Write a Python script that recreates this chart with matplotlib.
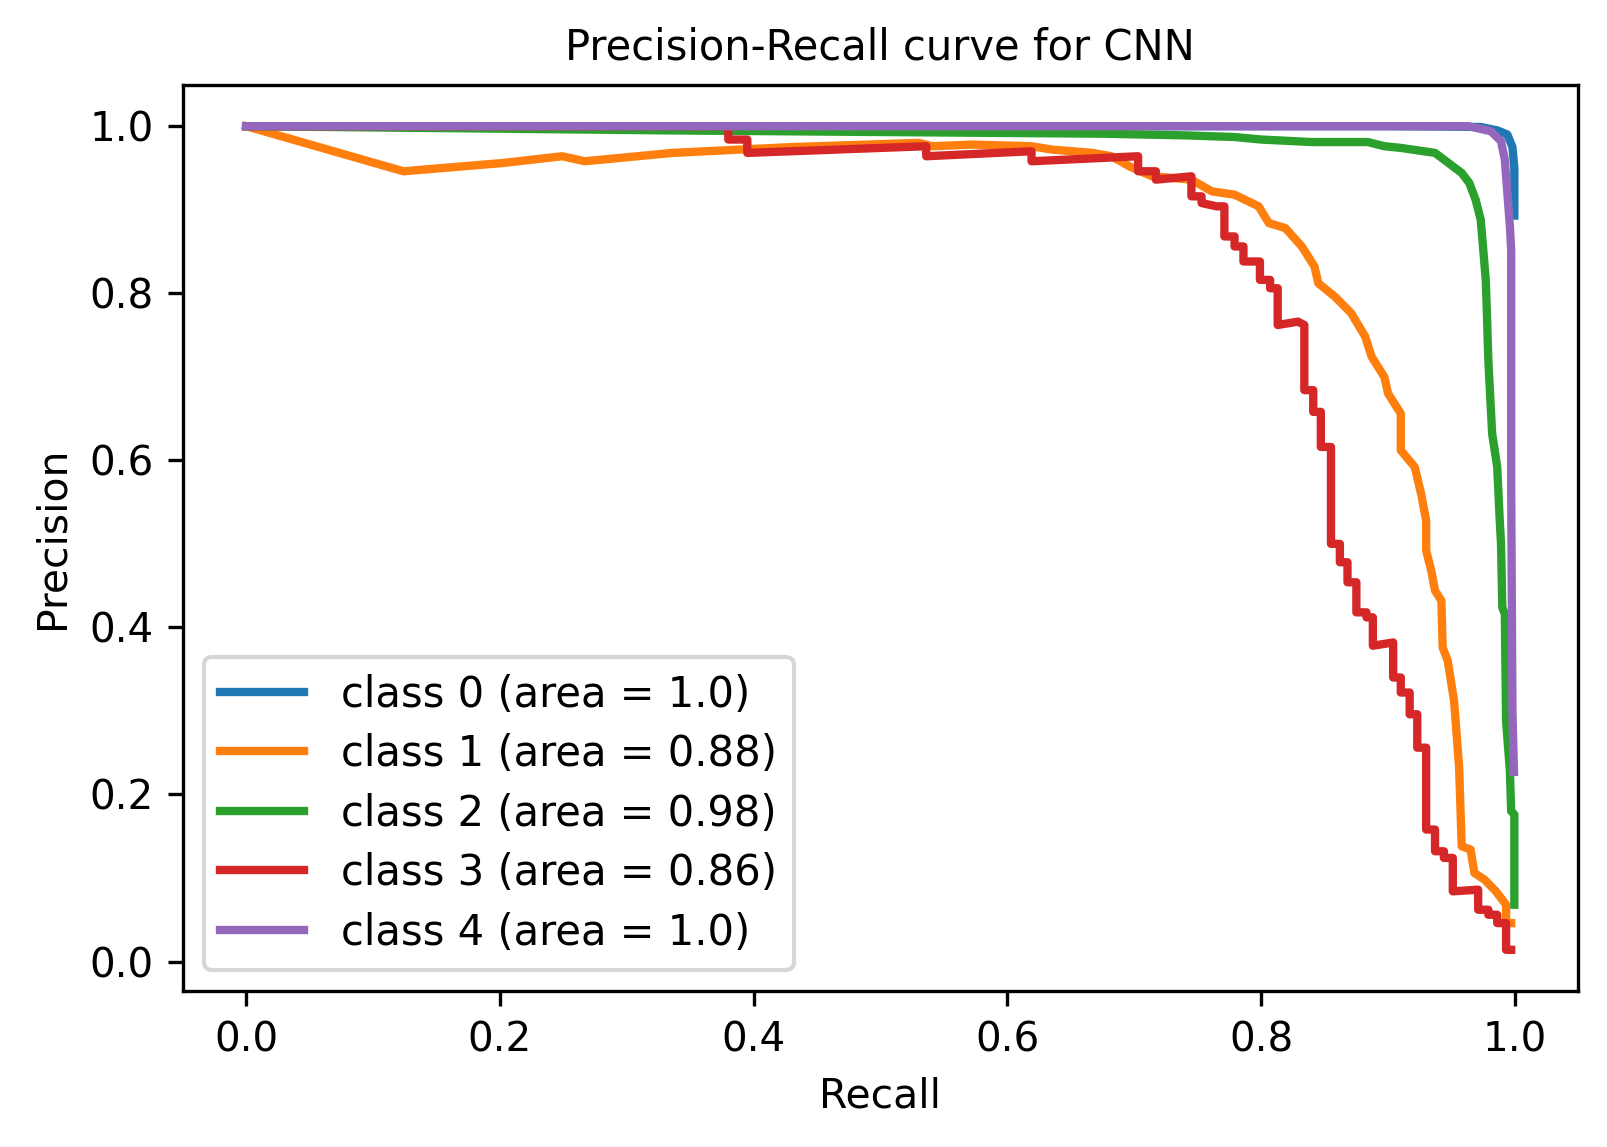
import matplotlib
matplotlib.use("Agg")
import matplotlib.pyplot as plt

# Precision-recall points, one list pair per class
recall_0 = [0.0, 0.90, 0.95, 0.973, 0.986, 0.994, 0.998, 0.9995, 0.9995]
precision_0 = [1.0, 1.0, 0.9995, 0.999, 0.995, 0.990, 0.975, 0.95, 0.893]

recall_1 = [0.0, 0.124, 0.203, 0.249, 0.267, 0.336, 0.43, 0.53, 0.541, 0.572, 0.619,
            0.635, 0.667, 0.682, 0.696, 0.714, 0.745, 0.761, 0.779, 0.798, 0.806,
            0.819, 0.832, 0.842, 0.845, 0.858, 0.871, 0.882, 0.887, 0.897, 0.900,
            0.910, 0.910, 0.921, 0.926, 0.930, 0.930, 0.934, 0.937, 0.942, 0.943,
            0.947, 0.952, 0.956, 0.958, 0.965, 0.968, 0.976, 0.985, 0.993, 0.993, 0.997]
precision_1 = [1.0, 0.946, 0.956, 0.964, 0.958, 0.968, 0.975, 0.980, 0.976, 0.978, 0.976,
               0.972, 0.968, 0.964, 0.952, 0.940, 0.936, 0.922, 0.918, 0.904, 0.884,
               0.878, 0.856, 0.832, 0.812, 0.796, 0.776, 0.748, 0.724, 0.700, 0.680,
               0.656, 0.612, 0.592, 0.560, 0.528, 0.492, 0.468, 0.444, 0.432, 0.376,
               0.360, 0.312, 0.232, 0.138, 0.134, 0.106, 0.098, 0.084, 0.068, 0.046, 0.046]

recall_2 = [0.0, 0.2, 0.33, 0.5, 0.674, 0.74, 0.779, 0.80, 0.84, 0.884, 0.897, 0.91,
            0.937, 0.944, 0.958, 0.964, 0.969, 0.973, 0.975, 0.977, 0.978, 0.979, 0.982,
            0.986, 0.988, 0.989, 0.990, 0.992, 0.993, 0.996, 0.997, 0.9995, 0.9995]
precision_2 = [1.0, 0.997, 0.995, 0.993, 0.991, 0.989, 0.987, 0.984, 0.981, 0.981, 0.976, 0.974,
               0.968, 0.960, 0.944, 0.932, 0.912, 0.888, 0.852, 0.815, 0.770, 0.720, 0.632,
               0.592, 0.528, 0.50, 0.424, 0.416, 0.288, 0.228, 0.180, 0.176, 0.068]

recall_3 = [0.0, 0.380, 0.380, 0.395, 0.395, 0.536, 0.536, 0.619, 0.619, 0.703, 0.703,
            0.717, 0.717, 0.745, 0.745, 0.753, 0.753, 0.765, 0.771, 0.771, 0.779, 0.779,
            0.786, 0.786, 0.799, 0.799, 0.807, 0.807, 0.813, 0.813, 0.829, 0.834, 0.834,
            0.841, 0.841, 0.847, 0.847, 0.855, 0.855, 0.862, 0.862, 0.868, 0.868,
            0.875, 0.875, 0.883, 0.883, 0.888, 0.888, 0.904, 0.904, 0.910, 0.910,
            0.917, 0.917, 0.923, 0.923, 0.930, 0.930, 0.937, 0.937, 0.944, 0.944,
            0.951, 0.951, 0.971, 0.971, 0.979, 0.979, 0.986, 0.986, 0.993, 0.993, 0.997]
precision_3 = [1.0, 1.0, 0.984, 0.984, 0.968, 0.976, 0.964, 0.970, 0.958, 0.964, 0.946,
               0.946, 0.936, 0.940, 0.916, 0.916, 0.908, 0.904, 0.904, 0.868, 0.868, 0.856,
               0.856, 0.838, 0.838, 0.816, 0.816, 0.806, 0.806, 0.762, 0.766, 0.762, 0.684,
               0.684, 0.658, 0.658, 0.616, 0.616, 0.500, 0.500, 0.478, 0.478, 0.454,
               0.454, 0.418, 0.418, 0.412, 0.412, 0.378, 0.382, 0.340, 0.340, 0.322,
               0.322, 0.296, 0.296, 0.256, 0.256, 0.158, 0.158, 0.132, 0.132, 0.124,
               0.124, 0.084, 0.086, 0.062, 0.062, 0.056, 0.056, 0.046, 0.046, 0.014, 0.014]

recall_4 = [0.0, 0.963, 0.981, 0.989, 0.992, 0.994, 0.996, 0.997, 0.997, 0.998, 0.9992]
precision_4 = [1.0, 1.0, 0.994, 0.982, 0.960, 0.920, 0.880, 0.852, 0.572, 0.300, 0.227]

areas = ["1.0", "0.88", "0.98", "0.86", "1.0"]
recalls = [recall_0, recall_1, recall_2, recall_3, recall_4]
precisions = [precision_0, precision_1, precision_2, precision_3, precision_4]

fig = plt.figure(figsize=(1607 / 300, 1147 / 300), dpi=300)
ax = fig.add_axes([0.1137, 0.1360, 0.8681, 0.7899])

for i in range(5):
    ax.plot(recalls[i], precisions[i], lw=2, label=f"class {i} (area = {areas[i]})")

ax.set_xlabel("Recall", fontsize=9.8)
ax.set_ylabel("Precision", fontsize=9.8)
ax.set_title("Precision-Recall curve for CNN", fontsize=10)
ax.tick_params(labelsize=9.7)
ax.legend(loc="lower left", fontsize=10, labelspacing=0.42, handletextpad=0.9)

fig.savefig("out.png", dpi=300)
